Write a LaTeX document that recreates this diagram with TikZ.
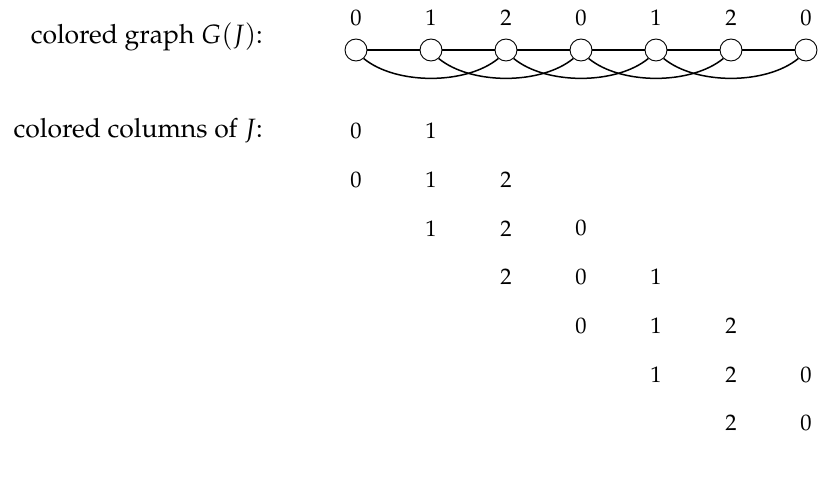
\documentclass[tikz,border=0pt]{standalone}
\usepackage[T1]{fontenc}
\usepackage{mathpazo}
\usetikzlibrary{calc}
\begin{document}
\begin{tikzpicture}[x=1pt,y=1pt,
  vtx/.style={circle,draw,line width=0.9pt,minimum size=22pt,inner sep=0pt,fill=white},
  lbl/.style={font=\fontsize{22.5}{26}\selectfont,inner sep=0pt},
  txt/.style={font=\fontsize{26.5}{30}\selectfont,inner sep=0pt},
  edge/.style={line width=1.5pt}]
\useasboundingbox (0,0) rectangle (825,-503);
% labels left
\node[txt,anchor=east] (t1) at (263,-37) {colored graph $G(J)$:};
\node[txt,anchor=east] (t2) at (263,-131) {colored columns of $J$:};
% vertices
\foreach \i/\c in {0/0,1/1,2/2,3/0,4/1,5/2,6/0}{
  \node[vtx] (v\i) at ({356+75*\i},-50) {};
  \node[lbl] (c\i) at ({356+75*\i},-18) {\c};
}
\foreach \i/\j in {0/1,1/2,2/3,3/4,4/5,5/6}{
  \draw[edge] (v\i) -- (v\j);
}
\foreach \i/\j in {0/2,1/3,2/4,3/5,4/6}{
  \draw[edge] (v\i.-48) .. controls ($(v\i)+(40,-35)$) and ($(v\j)+(-40,-35)$) .. (v\j.-132);
}
% columns
\foreach \r/\list in {0/{0/0,1/1},1/{0/0,1/1,2/2},2/{1/1,2/2,3/0},3/{2/2,3/0,4/1},4/{3/0,4/1,5/2},5/{4/1,5/2,6/0},6/{5/2,6/0}}{
  \foreach \k/\d in \list {
    \node[lbl] (r\r k\k) at ({356+75*\k},{-131-48.7*\r}) {\d};
  }
}
\end{tikzpicture}
\end{document}
